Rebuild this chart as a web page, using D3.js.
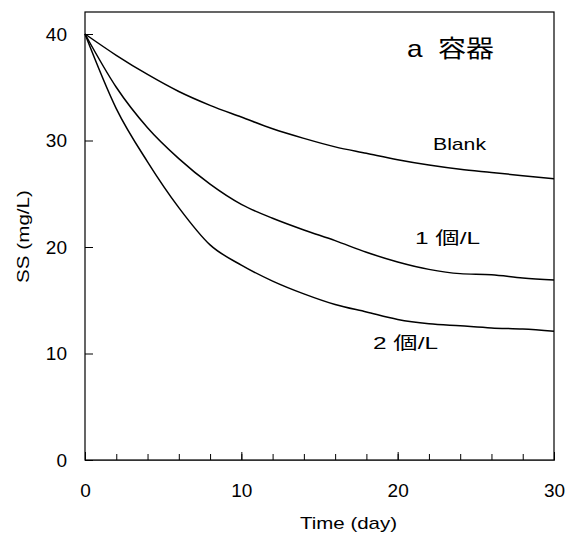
<!DOCTYPE html>
<html>
<head>
<meta charset="utf-8">
<script src="https://cdn.jsdelivr.net/npm/d3@7"></script>
<style>
  body { margin: 0; background: #fff; }
  text { font-family: "Liberation Sans", Arial, "Noto Sans CJK JP", sans-serif; fill: #000; }
</style>
</head>
<body>
<div id="chart"></div>
<script>
// days and SS values
const days = [0, 2, 4, 6, 8, 10, 12, 14, 16, 18, 20, 22, 24, 26, 28, 30];
const blank = [40, 38.0, 36.2, 34.6, 33.3, 32.2, 31.1, 30.2, 29.4, 28.8, 28.2, 27.7, 27.3, 27.0, 26.7, 26.4];
const one = [40, 35.0, 31.2, 28.3, 25.9, 24.0, 22.7, 21.6, 20.6, 19.5, 18.6, 17.9, 17.5, 17.4, 17.1, 16.9];
const two = [40, 33.0, 28.0, 23.7, 20.2, 18.3, 16.8, 15.6, 14.6, 13.9, 13.2, 12.8, 12.6, 12.4, 12.3, 12.1];
const seriesNames = ['Blank', '1 個/L', '2 個/L'];
const yTicks = [0, 10, 20, 30, 40];
const xMajor = [0, 10, 20, 30];

const width = 567, height = 537;
const margin = { top: 12, right: 13, bottom: 77, left: 85 };
const w = width - margin.left - margin.right;
const h = height - margin.top - margin.bottom;

const svg = d3.select('#chart').append('svg')
  .attr('width', width)
  .attr('height', height);

const g = svg.append('g')
  .attr('transform', `translate(${margin.left},${margin.top})`);

const x = d3.scaleLinear().domain([0, 30]).range([0, w]);
// 40 sits a little below the top frame
const y = d3.scaleLinear().domain([0, 40]).range([h, h - 426]);

// frame
g.append('rect')
  .attr('x', 0).attr('y', 0)
  .attr('width', w).attr('height', h)
  .attr('fill', 'none')
  .attr('stroke', '#000')
  .attr('stroke-width', 1.2);

// minor x ticks
g.append('g')
  .attr('transform', `translate(0,${h})`)
  .call(d3.axisBottom(x).tickValues(d3.range(0, 31, 2)).tickSize(-6).tickFormat(''))
  .call(a => a.select('.domain').remove());

// major x ticks + labels
const xAxis = g.append('g')
  .attr('transform', `translate(0,${h})`)
  .call(d3.axisBottom(x).tickValues(xMajor).tickSize(-8).tickPadding(24).tickFormat(d3.format('d')));
xAxis.select('.domain').attr('stroke', '#333');
xAxis.selectAll('text').style('font-size', '19px');

const yAxis = g.append('g')
  .call(d3.axisLeft(y).tickValues(yTicks).tickSize(-8).tickPadding(18).tickFormat(d3.format('d')));
yAxis.select('.domain').remove();
yAxis.selectAll('text').style('font-size', '19px');
g.selectAll('.tick line').attr('stroke', '#000');

// curves
const line = d3.line()
  .x((d, i) => x(days[i]))
  .y(d => y(d))
  .curve(d3.curveMonotoneX);

[blank, one, two].forEach(s => {
  g.append('path')
    .datum(s)
    .attr('fill', 'none')
    .attr('stroke', '#000')
    .attr('stroke-width', 1.5)
    .attr('d', line);
});

// series labels
const labelPos = [
  { x: 433, y: 150 },
  { x: 415, y: 244 },
  { x: 373, y: 349 }
];
seriesNames.forEach((n, i) => {
  svg.append('text')
    .attr('x', labelPos[i].x)
    .attr('y', labelPos[i].y)
    .attr('textLength', i === 0 ? 53 : 65)
    .attr('lengthAdjust', 'spacingAndGlyphs')
    .style('font-size', '17px')
    .text(n);
});

// panel title
svg.append('text')
  .attr('x', 407).attr('y', 57)
  .attr('textLength', 87)
  .attr('lengthAdjust', 'spacingAndGlyphs')
  .style('font-size', '24px')
  .style('white-space', 'pre')
  .text('a  容器');

// axis titles
svg.append('text')
  .attr('x', 300).attr('y', 529)
  .attr('textLength', 97)
  .attr('lengthAdjust', 'spacingAndGlyphs')
  .style('font-size', '17px')
  .text('Time (day)');

svg.append('text')
  .attr('transform', 'translate(29,283) rotate(-90)')
  .attr('textLength', 93)
  .attr('lengthAdjust', 'spacingAndGlyphs')
  .style('font-size', '17px')
  .text('SS (mg/L)');
</script>
</body>
</html>
